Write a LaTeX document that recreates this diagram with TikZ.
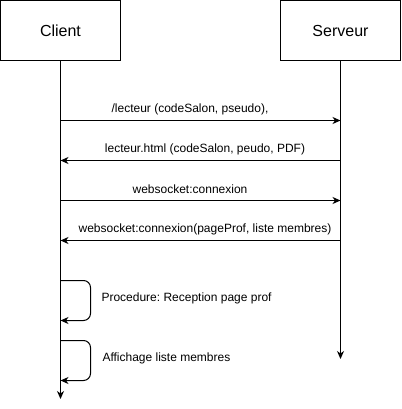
\documentclass[tikz,border=0pt]{standalone}
\usepackage{fontspec}
\setmainfont{Liberation Sans}
\usetikzlibrary{arrows.meta}
\frenchspacing
\begin{document}
\begin{tikzpicture}[x=1pt,y=-1pt,line width=1pt,
  actor/.style={draw,minimum width=120pt,minimum height=60pt,inner sep=0pt,font=\fontsize{16}{19}\selectfont},
  msg/.style={-{Stealth[length=8pt,width=7pt,inset=2.5pt]}},
  lbl/.style={font=\fontsize{12}{14}\selectfont,inner sep=0pt},
  loopline/.style={msg,rounded corners=7pt}]
\useasboundingbox (0,0) rectangle (401,409);
\node[actor] (client) at (60.5,30.5) {Client};
\node[actor] (serveur) at (340.5,30.5) {Serveur};
\coordinate (cEnd) at (60.5,399);
\coordinate (sEnd) at (340.5,359);
\draw[msg] (client.south) -- (cEnd);
\draw[msg] (serveur.south) -- (sEnd);
% messages
\coordinate (c1) at (60.5,120.5); \coordinate (s1) at (340.5,120.5);
\coordinate (c2) at (60.5,160.5); \coordinate (s2) at (340.5,160.5);
\coordinate (c3) at (60.5,200.5); \coordinate (s3) at (340.5,200.5);
\coordinate (c4) at (60.5,240.5); \coordinate (s4) at (340.5,240.5);
\draw[msg] (c1) -- (s1);
\draw[msg] (s2) -- (c2);
\draw[msg] (c3) -- (s3);
\draw[msg] (s4) -- (c4);
\node[lbl] (l1) at (190,109) {/lecteur (codeSalon, pseudo),};
\node[lbl] (l2) at (205,149) {lecteur.html (codeSalon, peudo, PDF)};
\node[lbl] (l3) at (190,189) {websocket:connexion};
\node[lbl] (l4) at (205,229) {websocket:connexion(pageProf, liste membres)};
% self loops
\coordinate (p1a) at (60.5,280.5); \coordinate (p1b) at (60.5,320.5);
\coordinate (p2a) at (60.5,340.5); \coordinate (p2b) at (60.5,380.5);
\draw[loopline] (p1a) -- (90.5,280.5) -- (90.5,320.5) -- (p1b);
\draw[loopline] (p2a) -- (90.5,340.5) -- (90.5,380.5) -- (p2b);
\node[lbl,anchor=west] (l5) at (101,298.5) {Procedure: Reception page prof};
\node[lbl,anchor=west] (l6) at (102,358.5) {Affichage liste membres};
\end{tikzpicture}
\end{document}
